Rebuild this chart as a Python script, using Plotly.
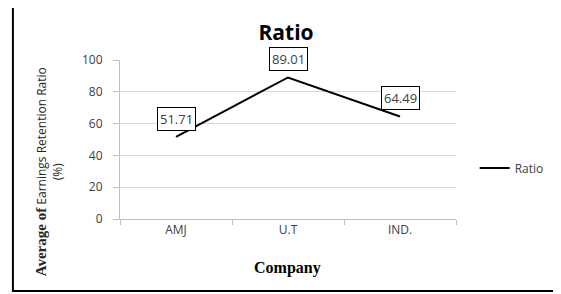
import plotly.graph_objects as go

# ---- data ----
companies = ["AMJ", "U.T", "IND."]
ratio_values = [51.71, 89.01, 64.49]
series_name = "Ratio"
y_ticks = [0, 20, 40, 60, 80, 100]

OFF = 8  # page body margin in the browser
W, H = 561 - OFF, 294 - OFF
L, R, T, B = 120 - OFF, 462 - OFF, 60 - OFF, 219 - OFF  # plot area in figure pixels


def px_x(px):
    return (px - OFF - L) / (R - L)


def px_y(py):
    return (B - (py - OFF)) / (B - T)


fig = go.Figure()
fig.add_trace(go.Scatter(
    x=companies, y=ratio_values, mode="lines", name=series_name,
    line=dict(color="black", width=2),
))

annotations = []
for c, v in zip(companies, ratio_values):
    annotations.append(dict(
        x=c, y=v, xref="x", yref="y", text=f"{v:.2f}", showarrow=False,
        yshift=18, bordercolor="black", borderwidth=1, borderpad=2,
        bgcolor="white",
        font=dict(family="Open Sans", size=13, color="#404040"),
    ))

# y-axis title (mixed fonts)
annotations.append(dict(
    x=px_x(48), y=px_y(172), xref="paper", yref="paper",
    text=('<span style="font-family:Liberation Serif;font-weight:bold;font-size:15px">Average of</span> '
          'Earnings Retention Ratio<br>(%)'),
    textangle=-90, showarrow=False, xanchor="center", yanchor="middle",
    font=dict(family="Open Sans", size=12, color="#262626"),
))
# x-axis title
annotations.append(dict(
    x=px_x(290), y=px_y(268), xref="paper", yref="paper",
    text="<b>Company</b>", showarrow=False, xanchor="center", yanchor="middle",
    font=dict(family="Liberation Serif", size=16, color="black"),
))

fig.update_layout(
    width=W, height=H,
    margin=dict(l=L, r=W - R, t=T, b=H - B, pad=0),
    paper_bgcolor="white", plot_bgcolor="white",
    title=dict(text="<b>Ratio</b>", x=px_x(289), xref="paper", xanchor="center",
               y=1 - (33 - OFF) / H, yref="container", yanchor="middle",
               font=dict(family="Open Sans", size=21, color="black")),
    showlegend=True,
    legend=dict(x=px_x(481), y=px_y(168), xanchor="left", yanchor="middle",
                font=dict(family="Open Sans", size=12, color="#404040"),
                bgcolor="rgba(0,0,0,0)", itemwidth=30, tracegroupgap=0),
    annotations=annotations,
    shapes=[dict(type="rect", xref="paper", yref="paper",
                 x0=px_x(11), x1=px_x(566), y0=px_y(291), y1=px_y(3),
                 line=dict(color="black", width=2), layer="above")],
    xaxis=dict(
        type="category", categoryorder="array", categoryarray=companies,
        range=[-0.5, 2.5],
        showgrid=False, showline=True, linecolor="#bfbfbf", linewidth=1,
        ticks="outside", tickson="boundaries", ticklen=5, tickcolor="#bfbfbf",
        tickfont=dict(family="Open Sans", size=12, color="#404040"),
        zeroline=False,
    ),
    yaxis=dict(
        range=[0, 100], tickvals=y_ticks, showgrid=True, gridcolor="#d9d9d9",
        showline=True, linecolor="#bfbfbf", linewidth=1,
        ticks="outside", ticklen=6, tickcolor="#bfbfbf",
        tickfont=dict(family="Open Sans", size=12, color="#404040"),
        zeroline=False, ticklabelstandoff=8,
    ),
)

fig.write_html("out.html")
